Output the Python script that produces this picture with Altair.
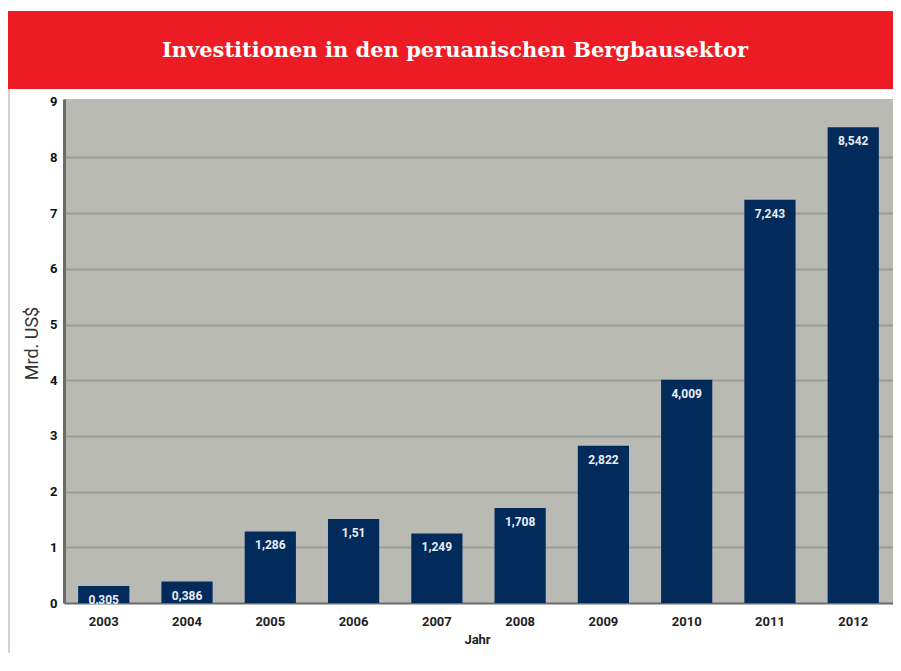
import altair as alt
import pandas as pd

years = ["2003", "2004", "2005", "2006", "2007", "2008", "2009", "2010", "2011", "2012"]
values = [0.305, 0.386, 1.286, 1.51, 1.249, 1.708, 2.822, 4.009, 7.243, 8.542]
labels = ["0,305", "0,386", "1,286", "1,51", "1,249", "1,708", "2,822", "4,009", "7,243", "8,542"]
title_text = "Investitionen in den peruanischen Bergbausektor"
y_ticks = [0, 1, 2, 3, 4, 5, 6, 7, 8, 9]

df = pd.DataFrame({"Jahr": years, "Wert": values, "Label": labels})

W, H = 829, 504

x_enc = alt.X(
    "Jahr:N",
    title="Jahr",
    scale=alt.Scale(paddingInner=0.385, paddingOuter=0.17),
    axis=alt.Axis(
        labelAngle=0, labelFont="Roboto", labelFontWeight="bold", labelFontSize=13,
        labelColor="#222222", ticks=False, labelPadding=12,
        domainColor="#6b6b6b", domainWidth=2, grid=False,
        titleFont="Roboto", titleFontWeight="bold", titleFontSize=13, titleColor="#222222",
        titleX=413, titleY=36, titleBaseline="middle", titleAnchor="start", titleAlign="center",
    ),
)
y_enc = alt.Y(
    "Wert:Q",
    title="Mrd. US$",
    scale=alt.Scale(domain=[0, 9.05], nice=False, zero=True),
    axis=alt.Axis(
        values=y_ticks, format="d", labelFont="Roboto", labelFontWeight="bold", labelFontSize=13,
        labelColor="#111111", ticks=False, labelPadding=7,
        domainColor="#6b6b6b", domainWidth=3,
        grid=True, gridWidth=2,
        gridColor=alt.condition("datum.value == 0 || datum.value == 9", alt.value("transparent"), alt.value("#9d9d98")),
        titleFont="Roboto", titleFontWeight="normal", titleFontSize=18, titleColor="#333333",
        titleAngle=-90, titleX=-32, titleY=244, titleAlign="center", titleBaseline="middle",
    ),
)

base = alt.Chart(df)
one = base.transform_filter("datum.Jahr == '2003'")

red_band = one.mark_rect(color="#ed1c24").encode(
    x=alt.value(-57), x2=alt.value(W), y=alt.value(-88), y2=alt.value(-10)
)
left_border = one.mark_rule(color="#d0d0d0", strokeWidth=2).encode(
    x=alt.value(-55), y=alt.value(-10), y2=alt.value(H + 50)
)
title_mark = one.mark_text(
    font="DejaVu Serif", fontWeight="bold", fontSize=21, color="white",
    align="center", baseline="alphabetic",
).encode(x=alt.value(391), y=alt.value(-42), text=alt.value(title_text))

bars = base.mark_bar(color="#022b5c").encode(x=x_enc, y=y_enc)
texts = base.mark_text(
    font="Roboto", fontWeight="bold", fontSize=12, color="#e9eef4",
    baseline="middle", dy=14,
).encode(x="Jahr:N", y="Wert:Q", text="Label:N")

chart = alt.layer(red_band, left_border, title_mark, bars, texts).properties(
    width=W, height=H,
    background="white",
    autosize=alt.AutoSizeParams(type="none"),
    padding={"left": 56, "top": 91, "right": 0, "bottom": 50},
).configure_view(fill="#babab5", stroke=None)

chart.save("out.html", embed_options={"renderer": "svg", "actions": False})
